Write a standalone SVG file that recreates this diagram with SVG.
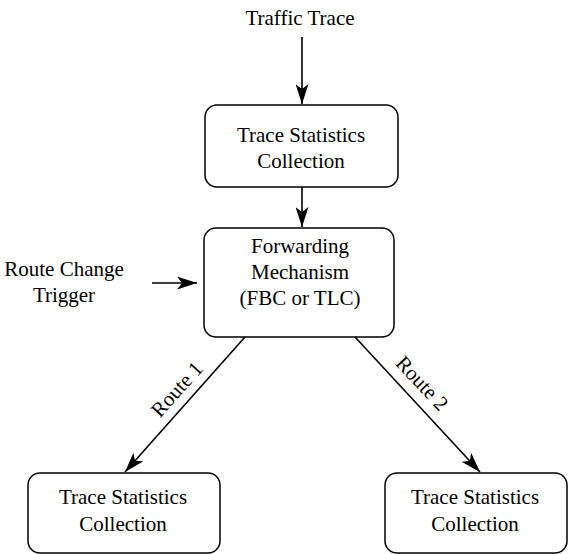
<svg xmlns="http://www.w3.org/2000/svg" width="571" height="554" viewBox="0 0 571 554">
<style>
.box{fill:#fff;stroke:#000;stroke-width:1.5}
.t{font-family:"Liberation Serif","Times New Roman",serif;font-size:21px;fill:#000;text-anchor:middle}
.c{stroke:#000;stroke-width:1.6;fill:none}
</style>
<defs>
<marker id="ah2" viewBox="0 0 20 12" refX="20" refY="6" markerWidth="20" markerHeight="13" markerUnits="userSpaceOnUse" orient="auto" preserveAspectRatio="none">
<path d="M0,0 L20,6 L0,12 L5,6 Z" fill="#000"/>
</marker>
</defs>
<rect width="571" height="554" fill="#fff"/>
<g id="traffic-trace"><text class="t" x="300" y="25">Traffic Trace</text></g>
<g id="route-change-trigger"><text class="t" x="64" y="276">Route Change</text><text class="t" x="64" y="302">Trigger</text></g>
<g id="top-collection"><rect class="box" x="205" y="105" width="193" height="82" rx="12"/><text class="t" x="301" y="142">Trace Statistics</text><text class="t" x="301" y="168">Collection</text></g>
<g id="forwarding"><rect class="box" x="204" y="228" width="190" height="109" rx="12"/><text class="t" x="300" y="253">Forwarding</text><text class="t" x="300" y="279">Mechanism</text><text class="t" x="300" y="305">(FBC or TLC)</text></g>
<g id="left-collection"><rect class="box" x="28" y="473" width="192" height="80" rx="12"/><text class="t" x="123" y="504">Trace Statistics</text><text class="t" x="123" y="531">Collection</text></g>
<g id="right-collection"><rect class="box" x="385" y="473" width="182" height="80" rx="12"/><text class="t" x="475" y="504">Trace Statistics</text><text class="t" x="475" y="531">Collection</text></g>
<g id="connectors">
<line class="c" x1="302" y1="37" x2="302" y2="104" marker-end="url(#ah2)"/>
<line class="c" x1="302" y1="187" x2="302" y2="227" marker-end="url(#ah2)"/>
<line class="c" x1="152" y1="283" x2="197" y2="283" marker-end="url(#ah2)"/>
<line class="c" x1="245" y1="337" x2="125" y2="472" marker-end="url(#ah2)"/>
<line class="c" x1="355" y1="337" x2="480" y2="472" marker-end="url(#ah2)"/>
<text class="t" transform="translate(182,394) rotate(-48)">Route 1</text>
<text class="t" transform="translate(417,388) rotate(47)">Route 2</text>
</g>
</svg>
